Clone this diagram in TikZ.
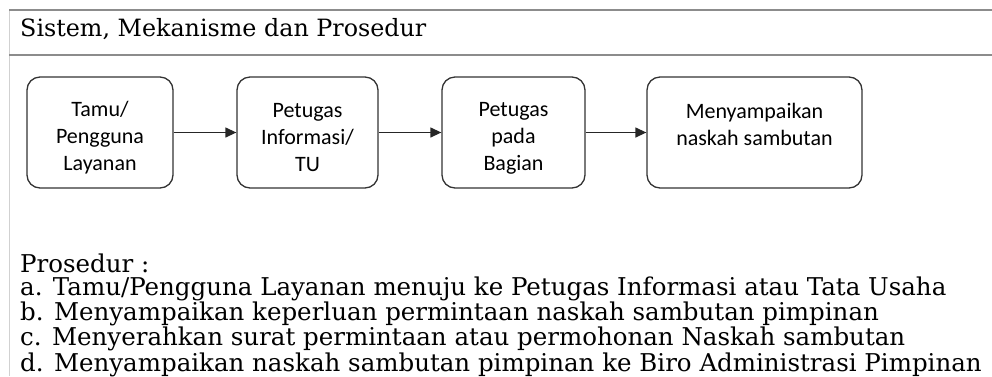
\documentclass[tikz,border=0pt]{standalone}
\usepackage{fontspec}
\setmainfont{DejaVu Serif}
\newfontfamily\boxfont{Carlito}
\usetikzlibrary{arrows.meta}

\definecolor{rulegray}{gray}{0.55}
\definecolor{edgegray}{gray}{0.82}

% extra room above the first line of a box text
\newcommand{\topgap}{\rule{0pt}{25pt}}

\begin{document}
\begin{tikzpicture}[x=1pt,y=-1pt]
\tikzstyle{flowbox}=[draw=black!80, line width=1.3pt, rounded corners=13pt, minimum height=111pt, inner sep=0pt, align=center, font=\boxfont\fontsize{22}{27}\selectfont]
\tikzstyle{flowarrow}=[draw=black!85, line width=1.3pt, -{Triangle[length=11pt,width=10pt]}]
\tikzstyle{serifline}=[anchor=base west, inner sep=0pt, align=left]

\useasboundingbox (0,0) rectangle (992,376);

% header rules
\draw[edgegray, line width=1pt] (9,10) -- (9,376);
\draw[rulegray, line width=2pt] (9,10) -- (992,10);
\draw[rulegray, line width=2pt] (9,55) -- (992,55);

\node[serifline, font=\fontsize{23.8}{24}\selectfont] (judul) at (20,36) {Sistem, Mekanisme dan Prosedur};

% flow
\node[flowbox, minimum width=146pt] (tamu) at (100,132.5) {\topgap Tamu/\\Pengguna\\Layanan};
\node[flowbox, minimum width=141pt] (info) at (307.5,132.5) {\topgap Petugas\\Informasi/\\TU};
\node[flowbox, minimum width=143pt] (bagian) at (513.5,132.5) {\topgap Petugas\\pada\\Bagian};
\node[flowbox, minimum width=215pt] (naskah) at (754.5,132.5) {\topgap Menyampaikan\\naskah sambutan\\~};

\draw[flowarrow] (tamu) -- (info);
\draw[flowarrow] (info) -- (bagian);
\draw[flowarrow] (bagian) -- (naskah);

% prosedur (base anchor sits on the last line)
\node[serifline, font=\fontsize{24.5}{23.8}\selectfont] (prosedur) at (20,371) {Prosedur :\\
a. Tamu/Pengguna Layanan menuju ke Petugas Informasi atau Tata Usaha\\
b. Menyampaikan keperluan permintaan naskah sambutan pimpinan\\
c. Menyerahkan surat permintaan atau permohonan Naskah sambutan\\
d. Menyampaikan naskah sambutan pimpinan ke Biro Administrasi Pimpinan};
\end{tikzpicture}
\end{document}
